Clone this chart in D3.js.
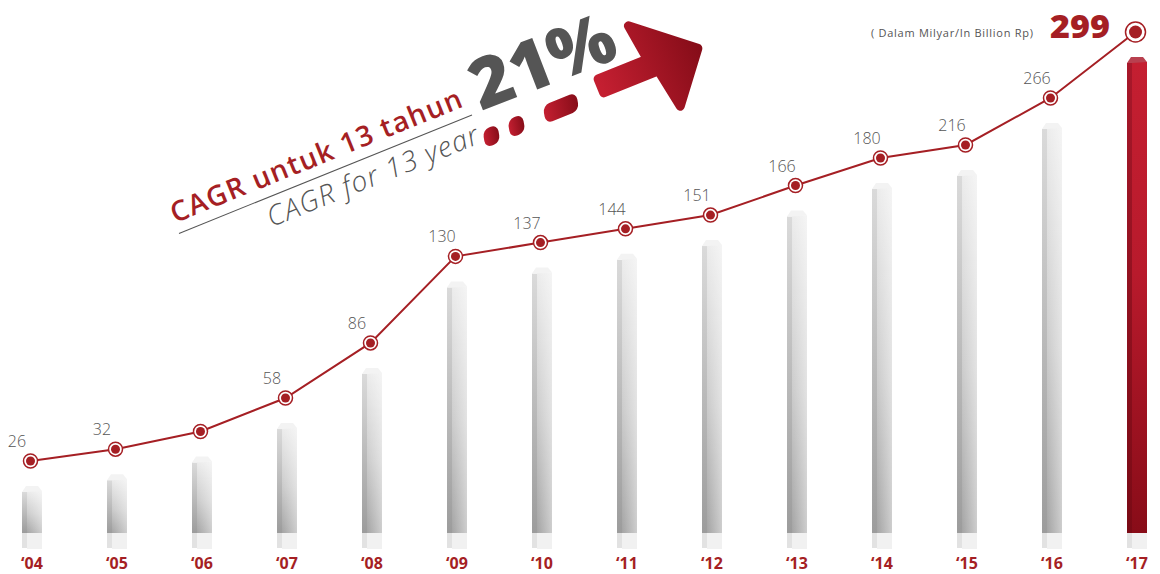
<!DOCTYPE html>
<html>
<head>
<meta charset="utf-8">
<script src="https://cdn.jsdelivr.net/npm/d3@7"></script>
<style>
  body { margin: 0; background: #fff; }
  svg { display: block; }
</style>
</head>
<body>
<div id="container"></div>
<script>
// chart data
var years = ["‘04", "‘05", "‘06", "‘07", "‘08", "‘09", "‘10", "‘11", "‘12", "‘13", "‘14", "‘15", "‘16", "‘17"];
var values = [26, 32, 41, 58, 86, 130, 137, 144, 151, 166, 180, 216, 266, 299];
var unlabelled = ["‘06"];
var unitLabel = "( Dalam Milyar/In Billion Rp)";
var cagrId = "CAGR untuk 13 tahun";
var cagrEn = "CAGR for 13 year";
var cagrValue = "21%";

var width = 1160, height = 574;
var red = "#a51f24";

var svg = d3.select("#container").append("svg")
  .attr("width", width)
  .attr("height", height);

var defs = svg.append("defs");

function grad(id, stops, x2, y2) {
  var g = defs.append("linearGradient").attr("id", id)
    .attr("x1", 0).attr("y1", 0).attr("x2", x2).attr("y2", y2);
  stops.forEach(function (s) {
    g.append("stop").attr("offset", s[0]).attr("stop-color", s[1]);
  });
}
grad("grayFront", [[0, "#ececec"], [0.55, "#cbcbcb"], [1, "#a4a4a4"]], 0, 1);
grad("graySide", [[0, "#dadada"], [1, "#9c9c9c"]], 0, 1);
grad("grayShine", [[0, "rgba(255,255,255,0)"], [1, "rgba(255,255,255,0.45)"]], 1, 0);
grad("redFront", [[0, "#c41f31"], [0.45, "#b81a2c"], [1, "#880c18"]], 0, 1);
grad("redSide", [[0, "#a8182a"], [1, "#7a0a15"]], 0, 1);
grad("arrowGrad", [[0, "#c41f31"], [1, "#870d19"]], 1, 0);

// scales (the infographic axis is compressed at the top)
var x = d3.scalePoint().domain(years).range([32, 1137]);
var y = d3.scaleLinear()
  .domain([26, 180, 216, 266, 299])
  .range([461, 158, 145, 98, 32]);

var baseTop = 533, baseBottom = 549;
var data = years.map(function (yr, i) { return { year: yr, value: values[i], last: i === years.length - 1 }; });

// bars
var bars = svg.append("g").selectAll("g")
  .data(data)
  .enter().append("g")
  .attr("transform", function (d) { return "translate(" + (x(d.year) - 10) + ",0)"; });

bars.each(function (d) {
  var g = d3.select(this);
  var t = y(d.value) + 25;
  // light base
  g.append("rect").attr("x", 0).attr("y", baseTop).attr("width", 5).attr("height", baseBottom - baseTop - 1)
    .attr("fill", "#e2e2e2");
  g.append("rect").attr("x", 5).attr("y", baseTop).attr("width", 15).attr("height", baseBottom - baseTop)
    .attr("fill", "#f1f1f1");
  // side face
  g.append("rect").attr("x", 0).attr("y", t + 6).attr("width", 5).attr("height", baseTop - t - 6)
    .attr("fill", d.last ? "url(#redSide)" : "url(#graySide)");
  // front face
  g.append("rect").attr("x", 5).attr("y", t + 5).attr("width", 15).attr("height", baseTop - t - 5)
    .attr("fill", d.last ? "url(#redFront)" : "url(#grayFront)");
  if (!d.last) {
    g.append("rect").attr("x", 5).attr("y", t + 5).attr("width", 15).attr("height", baseTop - t - 5)
      .attr("fill", "url(#grayShine)");
  }
  // top cap
  g.append("path")
    .attr("d", "M0," + (t + 6) + "L4," + t + "L16," + t + "L20," + (t + 5) + "L5," + (t + 6) + "Z")
    .attr("fill", d.last ? "#b8404f" : "#f3f3f3");
});

// line
var line = d3.line()
  .x(function (d) { return x(d.year) - 1.5; })
  .y(function (d) { return y(d.value); });

svg.append("path")
  .datum(data)
  .attr("d", line)
  .attr("fill", "none")
  .attr("stroke", red)
  .attr("stroke-width", 2);

// markers
var pts = svg.append("g").selectAll("g")
  .data(data)
  .enter().append("g")
  .attr("transform", function (d) { return "translate(" + (x(d.year) - 1.5) + "," + y(d.value) + ")"; });

pts.append("circle")
  .attr("r", function (d) { return d.last ? 10 : 7; })
  .attr("fill", "#fff")
  .attr("stroke", red)
  .attr("stroke-width", 1.5);
pts.append("circle")
  .attr("r", function (d) { return d.last ? 6.5 : 4.5; })
  .attr("fill", red);

// value labels
svg.append("g").selectAll("text")
  .data(data.filter(function (d) { return !d.last && unlabelled.indexOf(d.year) < 0; }))
  .enter().append("text")
  .attr("x", function (d) { return x(d.year) - 15; })
  .attr("y", function (d) { return y(d.value) - 14; })
  .attr("text-anchor", "middle")
  .attr("font-family", "'Open Sans', sans-serif")
  .attr("font-weight", 300)
  .attr("font-size", 16)
  .attr("fill", "#555")
  .text(function (d) { return d.value; });

// last value + unit
svg.append("text")
  .attr("x", 1050).attr("y", 38)
  .attr("font-family", "'Open Sans', sans-serif")
  .attr("font-weight", 800)
  .attr("font-size", 31)
  .attr("fill", red)
  .attr("textLength", 60)
  .attr("lengthAdjust", "spacingAndGlyphs")
  .text(values[values.length - 1]);

svg.append("text")
  .attr("x", 871).attr("y", 37)
  .attr("font-family", "'Open Sans', sans-serif")
  .attr("font-size", 11)
  .attr("fill", "#555")
  .attr("textLength", 162)
  .text(unitLabel);

// x axis labels
svg.append("g").selectAll("text")
  .data(data)
  .enter().append("text")
  .attr("x", function (d) { return x(d.year); })
  .attr("y", 569)
  .attr("text-anchor", "middle")
  .attr("font-family", "'Open Sans', sans-serif")
  .attr("font-weight", 700)
  .attr("font-size", 16)
  .attr("fill", red)
  .text(function (d) { return d.year; });

// CAGR annotation
var cg = svg.append("g").attr("transform", "translate(176,226) rotate(-22)");
cg.append("text")
  .attr("x", 0).attr("y", -3)
  .attr("font-family", "'Open Sans', sans-serif")
  .attr("font-weight", 600)
  .attr("font-size", 28)
  .attr("fill", red)
  .attr("textLength", 312)
  .text(cagrId);
cg.append("line")
  .attr("x1", 0).attr("y1", 8).attr("x2", 316).attr("y2", 8)
  .attr("stroke", "#555").attr("stroke-width", 1);
cg.append("text")
  .attr("x", 88).attr("y", 37)
  .attr("font-family", "'Open Sans', sans-serif")
  .attr("font-weight", 300)
  .attr("font-style", "italic")
  .attr("font-size", 28)
  .attr("fill", "#555")
  .attr("textLength", 226)
  .text(cagrEn);

var pg = svg.append("g").attr("transform", "translate(481,111) rotate(-21)");
pg.append("text")
  .attr("x", 0).attr("y", 0)
  .attr("font-family", "'Open Sans', sans-serif")
  .attr("font-weight", 800)
  .attr("font-size", 70)
  .attr("fill", "#555")
  .attr("textLength", 150)
  .attr("lengthAdjust", "spacingAndGlyphs")
  .text(cagrValue);

// arrow with dotted trail
var ag = svg.append("g").attr("transform", "translate(597,87) rotate(-22)");
[[-123, 16], [-96, 16], [-58, 36]].forEach(function (p) {
  ag.append("rect")
    .attr("x", p[0]).attr("y", -3)
    .attr("width", p[1]).attr("height", 18)
    .attr("rx", 7)
    .attr("transform", "skewX(-12)")
    .attr("fill", "url(#arrowGrad)");
});
ag.append("path")
  .attr("d", "M4,-7L57,-7L52,-45L108,2L70,49L63,8L4,8Z")
  .attr("fill", "url(#arrowGrad)")
  .attr("stroke", "url(#arrowGrad)")
  .attr("stroke-width", 9)
  .attr("stroke-linejoin", "round");
</script>
</body>
</html>
